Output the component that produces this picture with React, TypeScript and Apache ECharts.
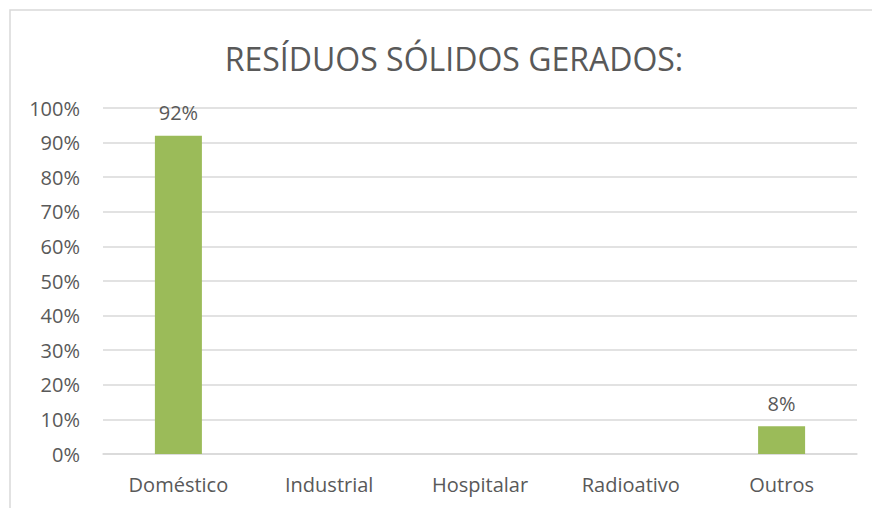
import React, { useEffect, useRef } from "react";
import * as echarts from "echarts";

const categories = ["Doméstico", "Industrial", "Hospitalar", "Radioativo", "Outros"];
const values = [92, 0, 0, 0, 8];
const titleText = "RESÍDUOS SÓLIDOS GERADOS:";

const FONT = "'Open Sans', 'Liberation Sans', sans-serif";
const TEXT = "#595959";

export default function App() {
  const ref = useRef<HTMLDivElement>(null);
  useEffect(() => {
    const chart = echarts.init(ref.current!, null, { renderer: "svg" });
    chart.setOption({
      animation: false,
      backgroundColor: "#ffffff",
      title: {
        text: titleText,
        left: 449,
        top: 37,
        textAlign: "center",
        textStyle: { fontFamily: FONT, fontSize: 32, fontWeight: "normal", color: TEXT },
      },
      graphic: [
        {
          type: "rect",
          shape: { x: 10, y: 10, width: 890, height: 520 },
          style: { fill: "none", stroke: "#d9d9d9", lineWidth: 1.5 },
          silent: true,
        },
      ],
      grid: { left: 103, right: 15, top: 108, bottom: 54, containLabel: false },
      xAxis: {
        type: "category",
        data: categories,
        axisLine: { show: true, lineStyle: { color: "#d9d9d9", width: 1.5 } },
        axisTick: { show: false },
        axisLabel: { color: TEXT, fontFamily: FONT, fontSize: 20, margin: 20 },
      },
      yAxis: {
        type: "value",
        min: 0,
        max: 100,
        interval: 10,
        axisLine: { show: false },
        axisTick: { show: false },
        splitLine: { lineStyle: { color: "#d9d9d9", width: 1.5 } },
        axisLabel: {
          color: TEXT,
          fontFamily: FONT,
          fontSize: 20,
          margin: 23,
          formatter: (v: number) => v + "%",
        },
      },
      series: [
        {
          type: "bar",
          data: values,
          barWidth: 47,
          itemStyle: { color: "#9bbb59" },
          label: {
            show: true,
            position: "top",
            distance: 13,
            color: TEXT,
            fontFamily: FONT,
            fontSize: 20,
            formatter: (p: any) => (p.value > 0 ? p.value + "%" : ""),
          },
        },
      ],
    });
    return () => chart.dispose();
  }, []);
  return (
    <div
      ref={ref}
      style={{ position: "absolute", left: 0, top: 0, width: 872, height: 508 }}
    />
  );
}
